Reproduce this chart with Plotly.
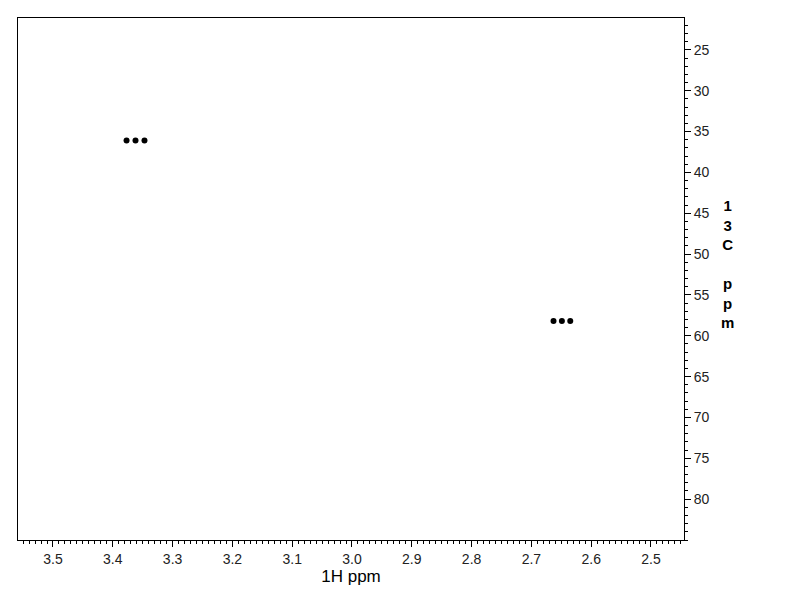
import plotly.graph_objects as go

# Cross peaks (1H ppm, 13C ppm)
peak_h = [3.377, 3.362, 3.347, 2.663, 2.649, 2.635]
peak_c = [36.1, 36.1, 36.1, 58.2, 58.2, 58.2]

x_ticks = [3.5, 3.4, 3.3, 3.2, 3.1, 3.0, 2.9, 2.8, 2.7, 2.6, 2.5]
y_ticks = [25, 30, 35, 40, 45, 50, 55, 60, 65, 70, 75, 80]

fig = go.Figure()
fig.add_trace(go.Scatter(
    x=peak_h, y=peak_c, mode="markers",
    marker=dict(color="black", size=6, symbol="circle"),
    showlegend=False, hoverinfo="skip"))

font = "Liberation Sans, Arial, sans-serif"
fig.update_layout(
    width=792, height=612,
    margin=dict(l=10, r=116, t=10, b=80),
    paper_bgcolor="white", plot_bgcolor="white",
    font=dict(family=font, color="black", size=14),
    xaxis=dict(
        range=[3.5585, 2.4448], showgrid=False, zeroline=False,
        showline=True, linecolor="black", linewidth=1, mirror=True,
        ticks="outside", ticklen=6, tickcolor="black", tickwidth=1,
        tickvals=x_ticks, ticktext=[f"{v:.1f}" for v in x_ticks],
        tickfont=dict(size=14, color="#222"),
        minor=dict(dtick=0.01, ticks="outside", ticklen=3, tickcolor="black", showgrid=False),
        title=dict(text="1H ppm", font=dict(size=17, color="black"), standoff=4),
    ),
    yaxis=dict(
        range=[85.0, 21.1], side="right", showgrid=False, zeroline=False,
        showline=True, linecolor="black", linewidth=1, mirror=True,
        ticks="outside", ticklen=6, tickcolor="black", tickwidth=1,
        tickvals=y_ticks, ticktext=[str(v) for v in y_ticks],
        tickfont=dict(size=14, color="#222"),
        minor=dict(dtick=1, ticks="outside", ticklen=3, tickcolor="black", showgrid=False),
    ),
    annotations=[dict(
        text="<b>1<br>3<br>C<br> <br>p<br>p<br>m</b>", xref="paper", yref="paper",
        x=1.0646, y=0.529, showarrow=False, xanchor="center", yanchor="middle",
        font=dict(size=15, color="black", family=font), align="center")],
)

fig.write_html("out.html")
